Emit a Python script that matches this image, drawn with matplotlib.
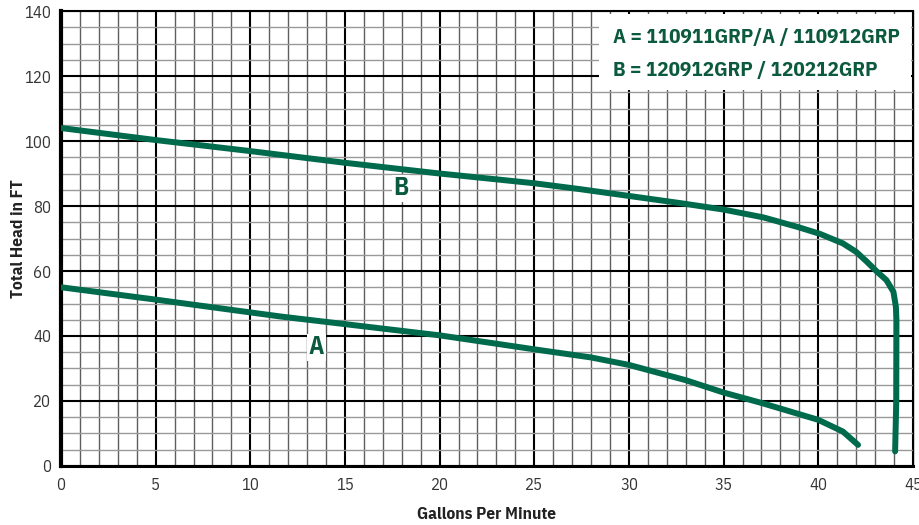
import numpy as np
import matplotlib
matplotlib.use('Agg')
import matplotlib.pyplot as plt
from matplotlib.patches import Rectangle
from matplotlib.ticker import MultipleLocator

plt.rcParams['font.family'] = ['IBM Plex Sans Condensed', 'DejaVu Sans']

# Pump curves
a_gpm = [0, 5, 11.6, 20, 25, 28, 30, 33, 35, 37, 40, 41.3, 42.1]
a_head = [55, 51.2, 46.0, 40.2, 35.9, 33.4, 31.1, 26.4, 22.6, 19.4, 14.2, 10.6, 6.5]

b_gpm = [0, 5, 10, 15, 20, 25, 27.4, 30, 32.7, 35, 37.1, 39, 40.1, 41.3, 42, 42.56, 43.1, 43.6, 43.97, 44.1, 44.13, 44.12, 44.06]
b_head = [104, 100.3, 96.9, 93.3, 90, 87, 85.2, 83.1, 80.9, 78.9, 76.5, 73.4, 71.4, 68.5, 65.9, 62.9, 59.8, 57.2, 53.6, 49, 44.9, 20, 4.5]

legend_lines = ["A = 110911GRP/A / 110912GRP", "B = 120912GRP / 120212GRP"]
x_ticks = [0, 5, 10, 15, 20, 25, 30, 35, 40, 45]
y_ticks = [0, 20, 40, 60, 80, 100, 120, 140]

green = '#006a4c'
text_green = '#0c5a3e'

fig = plt.figure(figsize=(9.2, 5.25), dpi=100)
ax = fig.add_axes([0.0663, 0.1124, 0.926, 0.8666])

ax.set_xlim(0, 45)
ax.set_ylim(0, 140)
ax.set_xticks(x_ticks)
ax.set_yticks(y_ticks)
ax.xaxis.set_minor_locator(MultipleLocator(1))
ax.yaxis.set_minor_locator(MultipleLocator(5))
ax.set_axisbelow(True)
ax.grid(which='major', color='black', lw=1.5)
ax.grid(which='minor', axis='x', color='#5e5e5e', lw=1.0)
ax.grid(which='minor', axis='y', color='#999999', lw=1.0)
ax.tick_params(which='both', length=0, labelsize=12, colors='#333333')
ax.tick_params(axis='x', pad=8)
ax.tick_params(axis='y', pad=7)

for side, w in [('left', 3.0), ('bottom', 2.2), ('top', 1.5), ('right', 1.0)]:
    ax.spines[side].set_linewidth(w)
    ax.spines[side].set_color('black')

# white box behind the model legend
ax.add_patch(Rectangle((28.4, 115.7), 16.5, 23.5, facecolor='white', edgecolor='none', zorder=2))

ax.plot(a_gpm, a_head, color=green, lw=4.3, solid_capstyle='round', solid_joinstyle='round', zorder=3)
ax.plot(b_gpm, b_head, color=green, lw=4.3, solid_capstyle='round', solid_joinstyle='round', zorder=3)

ax.text(29.15, 131.8, legend_lines[0], color=text_green, fontsize=15.2, fontweight='bold', va='center', ha='left', zorder=4)
ax.text(29.15, 121.6, legend_lines[1], color=text_green, fontsize=15.2, fontweight='bold', va='center', ha='left', zorder=4)

lbl_box = dict(facecolor='white', edgecolor='none', pad=1)
ax.text(17.96, 85.5, 'B', color=text_green, fontsize=18, fontweight='bold', ha='center', va='center', bbox=lbl_box, zorder=4)
ax.text(13.5, 36.6, 'A', color=text_green, fontsize=18, fontweight='bold', ha='center', va='center', bbox=lbl_box, zorder=4)

ax.set_xlabel('Gallons Per Minute', fontsize=12.5, fontweight='bold', color='#222222', labelpad=10)
ax.set_ylabel('Total Head in FT', fontsize=12.5, fontweight='bold', color='#222222')
ax.yaxis.set_label_coords(-0.041, 0.5)

fig.savefig('out.png', dpi=100)
